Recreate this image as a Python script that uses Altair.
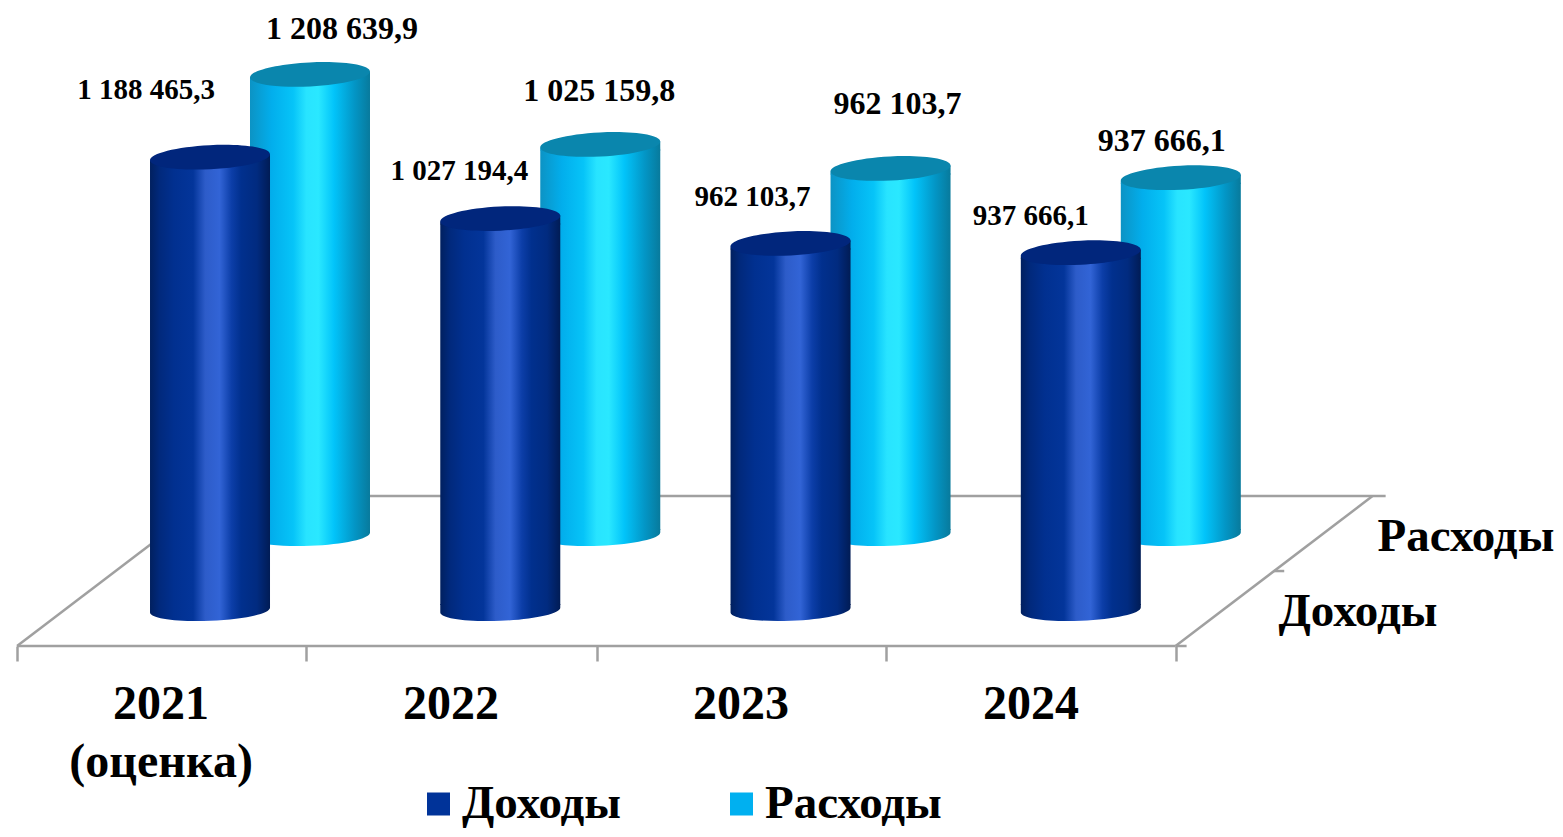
import altair as alt
import pandas as pd

YEARS = ["2021\n(оценка)", "2022", "2023", "2024"]
SERIES = ["Доходы", "Расходы"]
INCOME = [1188465.3, 1027194.4, 962103.7, 937666.1]
SPENDING = [1208639.9, 1025159.8, 962103.7, 937666.1]

FONT = "Liberation Serif"
GREY = "#a0a0a0"

# Pseudo-3D layout, all in data units
Y_MIN, Y_MAX = -94500, 1580000
X_MIN, X_MAX = -0.6942, 4.622
BACK_DX, BACK_BASE = 0.3436, 196850
F_X0, F_X1, F_DX, F_Y1 = -0.663, 3.318, 0.677, 299000
TICKS = [-0.663, 0.33, 1.33, 2.323, 3.318]
LIP = 13100  # how far the straight body stops short of each cap's centre
STEP = 0.9975  # category spacing

x_axis = alt.Axis(values=TICKS, labels=False, domain=False, grid=False, title=None,
                  tickColor=GREY, tickWidth=2.5, tickSize=15)
x_scale = alt.Scale(domain=[X_MIN, X_MAX], nice=False, zero=False, padding=0)
y_scale = alt.Scale(domain=[Y_MIN, Y_MAX], nice=False, zero=False)
X = lambda f: alt.X(f, type="quantitative", scale=x_scale, axis=x_axis, title=None)
Y = lambda f: alt.Y(f, type="quantitative", scale=y_scale, axis=None, title=None)


def fmt(v):
    whole, frac = f"{v:.1f}".split(".")
    return f"{int(whole):,}".replace(",", " ") + "," + frac


rows = []
for i in range(4):
    rows.append(dict(pos=i, x=i * STEP, base=0, top=INCOME[i], label=fmt(INCOME[i]), series=SERIES[0]))
    rows.append(dict(pos=i, x=i * STEP + BACK_DX, base=BACK_BASE, top=BACK_BASE + SPENDING[i], label=fmt(SPENDING[i]), series=SERIES[1]))
df = pd.DataFrame(rows)
df["body_bottom"] = df.base + LIP
df["body_top"] = df.top - LIP
front = df[df.series == SERIES[0]]
back = df[df.series == SERIES[1]]

CAP_TOP = "M -1 0.05 A 1 0.2 -2.9 1 1 1 -0.05 A 1 0.2 -2.9 1 1 -1 0.05 Z"
COLLAR = "M -1 0.05 L 1 -0.05 L 1 0.1 L -1 0.1 Z"
CAP_BOT = "M -1 -0.1 L -1 0.04 A 1 0.18 -2.3 0 0 1 -0.04 L 1 -0.1 Z"
SIZE = 14400


def grad(stops):
    return alt.Gradient(gradient="linear", x1=0, x2=1, y1=0, y2=0,
                        stops=[alt.GradientStop(offset=o, color=c) for o, c in stops])


FRONT_BODY = grad([(0, "#01205f"), (0.08, "#01297c"), (0.2, "#013090"), (0.36, "#03359a"), (0.46, "#2d5cc9"),
                   (0.58, "#3264d6"), (0.68, "#0c3ea8"), (0.76, "#01308e"), (0.89, "#012b80"), (1, "#011c55")])
BACK_BODY = grad([(0, "#0c93c4"), (0.18, "#02aeec"), (0.36, "#06c4f8"), (0.47, "#28e4ff"), (0.57, "#2ae8ff"),
                  (0.7, "#02c4fa"), (0.87, "#0396c6"), (1, "#087a9c")])
FRONT_CAP = "#01267c"
BACK_CAP = "#0a86ad"


def cylinder(data, body, cap):
    base = alt.Chart(data)
    sym = dict(size=SIZE, filled=True, opacity=1, strokeOpacity=0)
    return [
        base.mark_bar(size=120, color=body).encode(x=X("x"), y=Y("body_bottom"), y2="body_top"),
        base.mark_point(shape=CAP_BOT, color=body, **sym).encode(x=X("x"), y=Y("base")),
        base.mark_point(shape=COLLAR, color=body, **sym).encode(x=X("x"), y=Y("top")),
        base.mark_point(shape=CAP_TOP, color=cap, **sym).encode(x=X("x"), y=Y("top")),
    ]


# floor outline
floor = pd.DataFrame([
    dict(x=F_X0, y=Y_MIN, x2=F_X1, y2=Y_MIN),
    dict(x=F_X1, y=Y_MIN, x2=F_X1 + 0.038, y2=Y_MIN),
    dict(x=F_X0, y=Y_MIN, x2=F_X0 + F_DX, y2=F_Y1),
    dict(x=F_X1, y=Y_MIN, x2=F_X1 + F_DX, y2=F_Y1),
    dict(x=F_X0 + F_DX, y=F_Y1, x2=F_X1 + F_DX + 0.045, y2=F_Y1),
    dict(x=F_X1 + F_DX / 2, y=(Y_MIN + F_Y1) / 2, x2=F_X1 + F_DX / 2 + 0.035, y2=(Y_MIN + F_Y1) / 2),
])
floor_layer = alt.Chart(floor).mark_rule(color=GREY, strokeWidth=2.5).encode(
    x=X("x"), x2="x2", y=Y("y"), y2="y2")

# value labels (hand-placed as in the source slide)
NUDGE_FRONT = [(-64, -67), (-41, -48), (-38, -46), (-50, -37)]
NUDGE_BACK = [(32, -45), (-1, -53), (7, -64), (-19, -37)]
labels = []
for i in range(4):
    for data, nudges, fs in ((front, NUDGE_FRONT, 29), (back, NUDGE_BACK, 32)):
        labels.append(
            alt.Chart(data[data.pos == i]).mark_text(
                font=FONT, fontWeight="bold", fontSize=fs, color="#000000",
                dx=nudges[i][0], dy=nudges[i][1], baseline="middle", align="center"
            ).encode(x=X("x"), y=Y("top"), text="label:N"))

# category labels
years = pd.DataFrame(dict(x=[i * 0.9965 - 0.168 for i in range(4)], y=[Y_MIN] * 4, t=YEARS))
year_layer = alt.Chart(years).mark_text(
    font=FONT, fontWeight="bold", fontSize=48, lineBreak="\n", lineHeight=58, dy=73,
    baseline="alphabetic", align="center", color="#000000"
).encode(x=X("x"), y=Y("y"), text="t:N")

# depth-axis labels
depth = [
    alt.Chart(pd.DataFrame(dict(x=[4.316], y=[191600], t=[SERIES[1]]))).mark_text(
        font=FONT, fontWeight="bold", fontSize=47, color="#000000", baseline="middle", align="center"
    ).encode(x=X("x"), y=Y("y"), text="t:N"),
    alt.Chart(pd.DataFrame(dict(x=[3.945], y=[-5300], t=[SERIES[0]]))).mark_text(
        font=FONT, fontWeight="bold", fontSize=47, color="#000000", baseline="middle", align="center"
    ).encode(x=X("x"), y=Y("y"), text="t:N"),
]

# legend carrier
legend_layer = alt.Chart(pd.DataFrame(dict(s=SERIES, x=[0, 0], y=[0, 0]))).mark_point(
    filled=True, size=0, opacity=1, shape="square"
).encode(
    x=X("x"), y=Y("y"),
    color=alt.Color("s:N", scale=alt.Scale(domain=SERIES, range=["#003399", "#00b0f0"]),
                    legend=alt.Legend(
                        orient="none", legendX=407, legendY=773, direction="horizontal", title=None,
                        symbolType="square", symbolSize=529, symbolStrokeWidth=0, symbolOpacity=1,
                        labelFont=FONT, labelFontWeight="bold", labelFontSize=47, labelColor="#000000",
                        labelOffset=0, columnPadding=97, rowPadding=0, labelLimit=400, symbolOffset=0,
                        clipHeight=46)),
)

layers = [floor_layer] + cylinder(back, BACK_BODY, BACK_CAP) + cylinder(front, FRONT_BODY, FRONT_CAP) \
    + labels + [year_layer] + depth + [legend_layer]

chart = alt.layer(*layers).properties(
    width=1547, height=638,
    autosize=alt.AutoSizeParams(type="none"),
    padding=alt.Padding(left=0, top=0, right=0, bottom=183),
    background="#ffffff",
).configure_view(stroke=None)

chart.save("out.html", embed_options={"renderer": "svg", "actions": False})
